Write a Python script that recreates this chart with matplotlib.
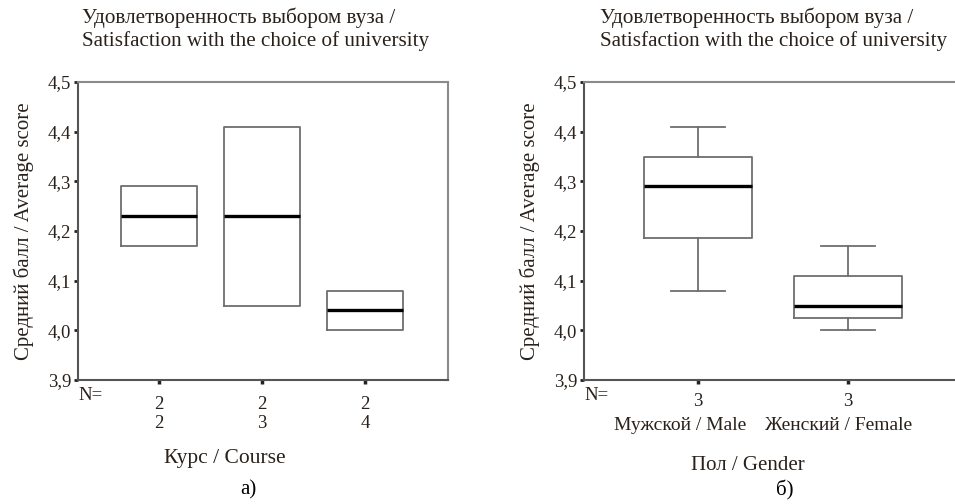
import matplotlib

matplotlib.use("Agg")
import matplotlib.pyplot as plt
from matplotlib.ticker import FuncFormatter

# ------------------------------------------------------------------------------
# Data (SPSS style box plots).
# ------------------------------------------------------------------------------

course_labels = ["2\n2", "2\n3", "2\n4"]
course_low = [4.17, 4.05, 4.00]
course_q1 = [4.17, 4.05, 4.00]
course_med = [4.23, 4.23, 4.04]
course_q3 = [4.29, 4.41, 4.08]
course_high = [4.29, 4.41, 4.08]

gender_counts = ["3", "3"]
gender_names = ["Мужской / Male", "Женский / Female"]
gender_low = [4.08, 4.00]
gender_q1 = [4.185, 4.025]
gender_med = [4.29, 4.05]
gender_q3 = [4.35, 4.11]
gender_high = [4.41, 4.17]

y_ticks = [3.9, 4.0, 4.1, 4.2, 4.3, 4.4, 4.5]

TITLE = "Удовлетворенность выбором вуза /\nSatisfaction with the choice of university"
Y_LABEL = "Средний балл / Average score"
TEXT = "#2a211b"
EDGE = "#6e6e6e"

plt.rcParams["font.family"] = ["Liberation Serif", "DejaVu Serif"]

W, H = 955, 504


def px_box(left, top, right, bottom):
    """Pixel box -> figure fraction rect."""
    return [left / W, 1 - bottom / H, (right - left) / W, (bottom - top) / H]


def make_stats(low, q1, med, q3, high):
    return [
        dict(whislo=a, q1=b, med=c, q3=d, whishi=e, fliers=[])
        for a, b, c, d, e in zip(low, q1, med, q3, high)
    ]


def style_axes(ax, labels, xlim, xpad):
    ax.set_ylim(3.9, 4.5)
    ax.set_xlim(*xlim)
    ax.set_yticks(y_ticks)
    ax.yaxis.set_major_formatter(FuncFormatter(lambda v, _: f"{v:.1f}".replace(".", ",")))
    ax.set_xticks(range(1, len(labels) + 1))
    ax.set_xticklabels(labels, linespacing=1.15)
    ax.tick_params(axis="y", length=3, width=2, color="#222222", pad=2,
                   labelsize=13.5, labelcolor=TEXT)
    ax.tick_params(axis="x", length=3, width=2.5, color="#222222", pad=xpad,
                   labelsize=13.5, labelcolor=TEXT)
    for side in ["top", "right"]:
        ax.spines[side].set_color("#8a8a8a")
        ax.spines[side].set_linewidth(1.5)
    for side in ["left", "bottom"]:
        ax.spines[side].set_color("#555555")
        ax.spines[side].set_linewidth(1.5)
    ax.set_ylabel(Y_LABEL, fontsize=15, color=TEXT)


fig = plt.figure(figsize=(9.55, 5.04), dpi=100)

box_kw = dict(
    patch_artist=False,
    boxprops=dict(color=EDGE, linewidth=1.3),
    whiskerprops=dict(color=EDGE, linewidth=1.3),
    capprops=dict(color=EDGE, linewidth=1.3),
    medianprops=dict(color="black", linewidth=2.4, solid_capstyle="butt"),
)

# Left panel: course
ax1 = fig.add_axes(px_box(78, 82, 448, 380))
ax1.bxp(make_stats(course_low, course_q1, course_med, course_q3, course_high),
        positions=[1, 2, 3], widths=0.74, showcaps=False, **box_kw)
style_axes(ax1, course_labels, (0.214, 3.806), 8.5)
ax1.yaxis.set_label_coords(-0.12, 0.5)
fig.text(82 / W, 1 - 8 / H, TITLE, ha="left", va="top", fontsize=15.2,
         color=TEXT, linespacing=1.18)
fig.text(78 / W, 1 - 395 / H, "N=", ha="left", va="center", fontsize=13.5, color=TEXT)
fig.text(225 / W, 1 - 459 / H, "Курс / Course", ha="center", va="center",
         fontsize=15.5, color=TEXT)
fig.text(248 / W, 1 - 490 / H, "а)", ha="center", va="center", fontsize=15, color="black")

# Right panel: gender
ax2 = fig.add_axes(px_box(584, 82, 962, 380))
ax2.bxp(make_stats(gender_low, gender_q1, gender_med, gender_q3, gender_high),
        positions=[1, 2], widths=0.72, showcaps=True, **box_kw)
style_axes(ax2, gender_counts, (0.24, 2.76), 6)
ax2.yaxis.set_label_coords(-0.117, 0.5)
# category names sit slightly left of their ticks in the original
for i, name in enumerate(gender_names):
    ax2.text(i + 1 - (0.12 if i == 0 else 0.06), -0.152, name,
             transform=ax2.get_xaxis_transform(), ha="center", va="center",
             fontsize=14, color=TEXT, clip_on=False)
fig.text(600 / W, 1 - 8 / H, TITLE, ha="left", va="top", fontsize=15.2,
         color=TEXT, linespacing=1.18)
fig.text(584 / W, 1 - 395 / H, "N=", ha="left", va="center", fontsize=13.5, color=TEXT)
fig.text(748 / W, 1 - 466 / H, "Пол / Gender", ha="center", va="center",
         fontsize=15, color=TEXT)
fig.text(785 / W, 1 - 490 / H, "б)", ha="center", va="center", fontsize=15, color="black")

fig.savefig("out.png", dpi=100)
